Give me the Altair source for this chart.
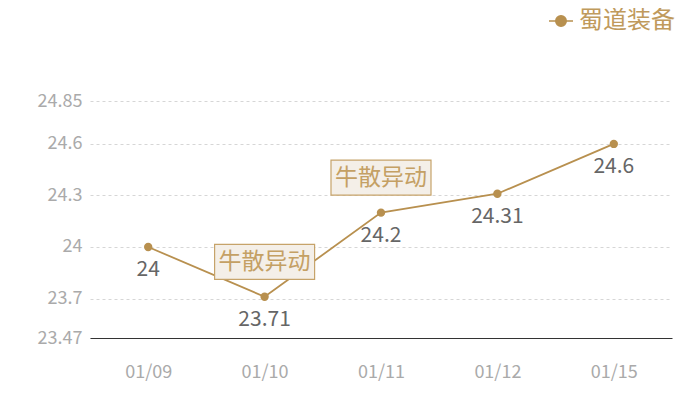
import altair as alt
import pandas as pd

dates = ["01/09", "01/10", "01/11", "01/12", "01/15"]
values = [24.0, 23.71, 24.2, 24.31, 24.6]
labels = ["24", "23.71", "24.2", "24.31", "24.6"]
series = "蜀道装备"

note_dates = ["01/10", "01/11"]
note_values = [23.71, 24.2]
note_text = ["牛散异动", "牛散异动"]

y_ticks = [23.47, 23.7, 24, 24.3, 24.6, 24.85]

GOLD = "#b8904f"
FONT = "Noto Sans CJK SC"

df = pd.DataFrame({"date": dates, "value": values, "label": labels, "series": series})
notes = pd.DataFrame({"date": note_dates, "value": note_values, "text": note_text})

x = alt.X("date:N", sort=dates, title=None,
          scale=alt.Scale(type="point", padding=0.5),
          axis=alt.Axis(labelAngle=0, labelColor="#aaaaaa", labelFontSize=18, labelFont=FONT,
                        labelPadding=25, ticks=False, domainColor="#333333", domainWidth=1,
                        grid=False))
y = alt.Y("value:Q", title=None,
          scale=alt.Scale(domain=[23.47, 24.85], zero=False, nice=False),
          axis=alt.Axis(values=y_ticks, labelColor="#aaaaaa", labelFontSize=18, labelFont=FONT,
                        labelPadding=8, ticks=False, domain=False, grid=True,
                        gridColor="#d6d6d6", gridDash=[3, 3], gridWidth=1,
                        labelExpr="datum.value == 24 ? '24' : format(datum.value, '')"))

color = alt.Color("series:N", scale=alt.Scale(range=[GOLD]), title=None,
                  legend=alt.Legend(orient="none", legendX=459, legendY=-92,
                                    labelFont=FONT, labelFontSize=24, labelColor="#c09a5c",
                                    labelOffset=6, labelLimit=200, padding=0,
                                    symbolType="M-1.6,0L-0.7,0M0.7,0L1.6,0M-0.7,0A0.7,0.7 0 1,0 0.7,0A0.7,0.7 0 1,0 -0.7,0Z",
                                    symbolSize=225, symbolStrokeWidth=1.5,
                                    symbolFillColor=GOLD, symbolStrokeColor=GOLD))

line = alt.Chart(df).mark_line(strokeWidth=1.8).encode(x=x, y=y, color=color)
pts = alt.Chart(df).mark_circle(size=70, opacity=1).encode(x=x, y=y, color=alt.Color("series:N", legend=None, scale=alt.Scale(range=[GOLD])))
txt = alt.Chart(df).mark_text(dy=23, fontSize=21, font=FONT, color="#666666").encode(x=x, y=y, text="label:N")

box = alt.Chart(notes).mark_point(
    shape="M-1,-0.35L1,-0.35L1,0.35L-1,0.35Z", size=10000, filled=True,
    fill="#f4efe8", stroke="#c6a36a", strokeWidth=1.2, opacity=1, yOffset=-35
).encode(x=x, y=y)
note = alt.Chart(notes).mark_text(fontSize=23, font=FONT, color="#c4a064", yOffset=-35).encode(
    x=x, y=y, text="text:N")

chart = alt.layer(line, pts, txt, box, note).properties(
    width=582, height=237,
    autosize=alt.AutoSizeParams(type="none"),
    padding={"left": 82, "top": 93, "right": 20, "bottom": 55},
).configure_view(stroke=None)

chart.save("out.html", embed_options={"renderer": "svg", "actions": False})
